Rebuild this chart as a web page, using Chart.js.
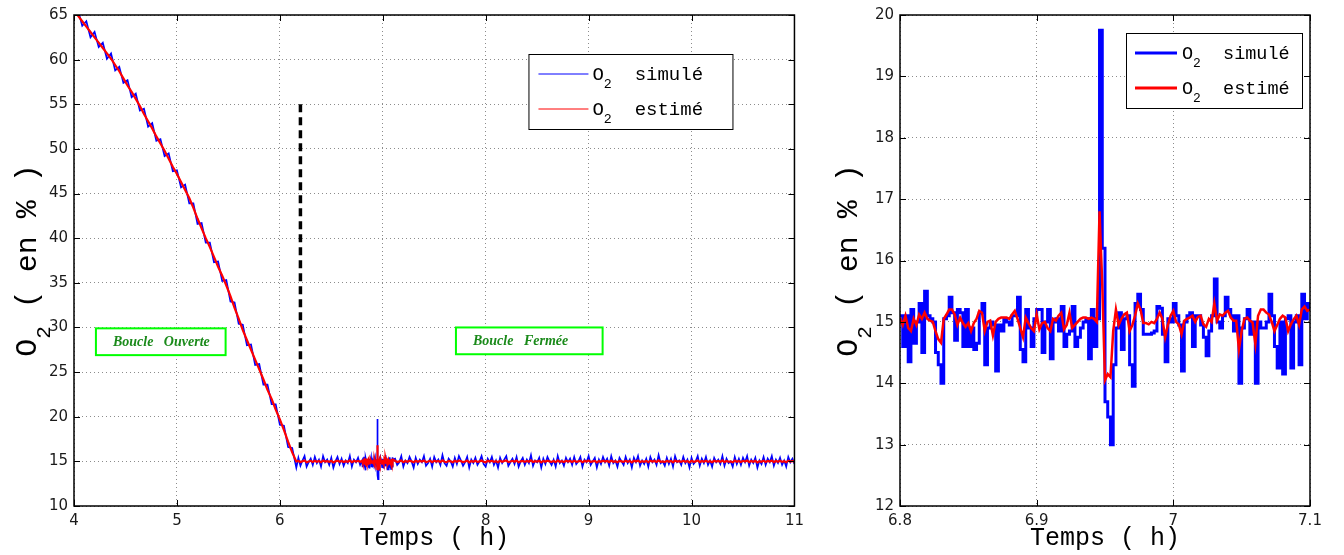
<!DOCTYPE html>
<html>
<head>
<meta charset="utf-8">
<script src="https://cdn.jsdelivr.net/npm/chart.js@4.4.1/dist/chart.umd.min.js"></script>
<style>
    body { margin: 0; background: #fff; }
    canvas { position: absolute; top: 0; }
    #full-run { left: 0; }
    #zoom-run { left: 820px; }
</style>
</head>
<body>
<canvas id="full-run" width="810" height="555"></canvas>
<canvas id="zoom-run" width="524" height="555"></canvas>
<script>
// Boucle ouverte : O2 (%) toutes les 0.04 h de 4 h à 6.16 h
const RUN_START = 4.0;
const RUN_STEP = 0.04;

const openSim = [
    65.0, 65.5, 63.8, 64.3, 62.5, 63.1, 61.4, 61.9, 60.1, 60.7,
    58.8, 59.2, 57.4, 57.7, 55.8, 56.2, 54.3, 54.5, 52.5, 52.9,
    50.9, 51.1, 49.2, 49.5, 47.5, 47.6, 45.7, 46.0, 43.9, 43.9,
    41.6, 41.7, 39.5, 39.5, 37.3, 37.4, 35.2, 35.3, 32.9, 32.8,
    30.4, 30.3, 28.0, 28.1, 25.8, 25.9, 23.6, 23.6, 21.4, 21.4,
    19.1, 19.0, 16.6, 16.5, 14.3
];
const openEst = [
    65.5, 64.9, 64.3, 63.7, 63.1, 62.5, 61.9, 61.3, 60.7, 60.1,
    59.4, 58.7, 57.9, 57.1, 56.4, 55.6, 54.8, 53.9, 53.1, 52.3,
    51.4, 50.6, 49.8, 48.9, 48.0, 47.2, 46.3, 45.4, 44.5, 43.4,
    42.2, 41.1, 40.0, 39.0, 37.9, 36.8, 35.8, 34.7, 33.5, 32.2,
    31.0, 29.7, 28.6, 27.5, 26.4, 25.3, 24.2, 23.0, 22.0, 20.8,
    19.7, 18.5, 17.2, 16.0, 15.0
];

// Boucle fermée : toutes les 0.02 h de 6.18 h à 6.78 h puis de 7.12 h à 11 h
const FINE_STEP = 0.02;
const SETTLE_START = 6.18;
const TAIL_START = 7.12;

const settleSim = [
    15.4, 14.5, 15.1, 15.6, 14.4, 14.9, 15.3, 14.6, 15.5, 14.8,
    15.2, 14.4, 15.6, 14.9, 15.2, 14.6, 15.4, 14.3, 15.0, 15.5,
    14.7, 15.3, 14.5, 15.1, 14.8, 15.6, 14.4, 15.2, 14.9, 15.4,
    14.6
];
const settleEst = [
    15.05, 14.92, 15.02, 15.1, 14.9, 14.98, 15.06, 14.94, 15.08, 14.96,
    15.04, 14.9, 15.1, 14.98, 15.02, 14.94, 15.06, 14.88, 15.0, 15.08,
    14.95, 15.05, 14.92, 15.02, 14.96, 15.1, 14.9, 15.04, 14.98, 15.06,
    14.95
];
const tailSim = [
    15.3, 14.6, 14.9, 15.6, 14.4, 15.1, 14.8, 15.5, 15.0, 14.3,
    15.4, 14.7, 15.2, 14.9, 15.6, 14.5, 14.8, 15.3, 14.4, 15.5,
    14.9, 15.2, 14.6, 15.7, 14.8, 14.5, 15.3, 15.0, 14.4, 15.4,
    14.7, 15.6, 15.1, 14.5, 14.9, 15.5, 14.3, 15.2, 14.8, 15.4,
    14.6, 15.0, 15.6, 14.7, 14.4, 15.3, 14.9, 15.5, 14.6, 15.1,
    14.3, 15.4, 14.8, 15.2, 15.6, 14.5, 14.9, 15.3, 14.7, 15.5,
    14.4, 15.0, 15.4, 14.6, 15.2, 14.8, 15.7, 14.5, 15.1, 14.9,
    15.4, 14.3, 15.3, 14.7, 15.5, 15.0, 14.6, 15.2, 14.4, 15.6,
    14.8, 15.1, 14.5, 15.4, 14.9, 15.3, 14.6, 15.5, 14.7, 15.0,
    15.5, 14.4, 15.2, 14.9, 15.6, 14.6, 15.0, 15.4, 14.3, 15.2,
    14.7, 15.5, 14.9, 15.3, 14.5, 15.6, 14.8, 15.1, 14.4, 15.4,
    15.0, 14.6, 15.5, 14.8, 15.2, 14.3, 15.4, 14.9, 15.6, 14.5,
    15.1, 14.7, 15.3, 14.4, 15.5, 14.9, 15.2, 14.6, 15.7, 14.8,
    15.0, 14.5, 15.4, 14.7, 15.3, 14.4, 15.6, 14.9, 15.1, 14.6,
    15.5, 14.8, 15.2, 14.3, 15.4, 14.7, 15.0, 15.6, 14.5, 15.3,
    14.8, 15.5, 14.6, 15.1, 14.4, 15.4, 14.9, 15.2, 14.7, 15.6,
    14.5, 15.3, 14.8, 15.0, 14.4, 15.5, 14.7, 15.3, 14.6, 15.4,
    14.9, 15.6, 14.5, 15.2, 14.8, 15.4, 14.3, 15.1, 14.7, 15.5,
    14.6, 15.3, 14.9, 15.6, 14.5, 15.2, 14.8, 15.4, 14.6, 15.1,
    14.4, 15.5, 14.9, 15.3, 14.7
];
const tailEst = [
    15.05, 14.92, 15.0, 15.1, 14.9, 15.04, 14.96, 15.08, 15.0, 14.9,
    15.06, 14.95, 15.04, 14.98, 15.1, 14.92, 14.98, 15.06, 14.9, 15.08,
    14.98, 15.04, 14.94, 15.12, 14.96, 14.92, 15.06, 15.0, 14.9, 15.06,
    14.95, 15.1, 15.02, 14.92, 14.98, 15.08, 14.88, 15.04, 14.96, 15.06,
    14.94, 15.0, 15.1, 14.95, 14.9, 15.06, 14.98, 15.08, 14.94, 15.02,
    14.9, 15.06, 14.96, 15.04, 15.1, 14.92, 14.98, 15.06, 14.95, 15.08,
    14.9, 15.0, 15.06, 14.94, 15.04, 14.96, 15.12, 14.92, 15.02, 14.98,
    15.06, 14.88, 15.05, 14.95, 15.08, 15.0, 14.94, 15.04, 14.9, 15.1,
    14.96, 15.02, 14.92, 15.06, 14.98, 15.05, 14.94, 15.08, 14.95, 15.0,
    15.08, 14.9, 15.04, 14.98, 15.1, 14.94, 15.0, 15.06, 14.88, 15.04,
    14.95, 15.08, 14.98, 15.05, 14.92, 15.1, 14.96, 15.02, 14.9, 15.06,
    15.0, 14.94, 15.08, 14.96, 15.04, 14.88, 15.06, 14.98, 15.1, 14.92,
    15.02, 14.95, 15.05, 14.9, 15.08, 14.98, 15.04, 14.94, 15.12, 14.96,
    15.0, 14.92, 15.06, 14.95, 15.05, 14.9, 15.1, 14.98, 15.02, 14.94,
    15.08, 14.96, 15.04, 14.88, 15.06, 14.95, 15.0, 15.1, 14.92, 15.05,
    14.96, 15.08, 14.94, 15.02, 14.9, 15.06, 14.98, 15.04, 14.95, 15.1,
    14.92, 15.05, 14.96, 15.0, 14.9, 15.08, 14.95, 15.05, 14.94, 15.06,
    14.98, 15.1, 14.92, 15.04, 14.96, 15.06, 14.88, 15.02, 14.95, 15.08,
    14.94, 15.05, 14.98, 15.1, 14.92, 15.04, 14.96, 15.06, 14.94, 15.02,
    14.9, 15.08, 14.98, 15.05, 14.95
];

// Zoom autour de la perturbation : 6.8 h à 7.1 h, pas de 0.002 h
const ZOOM_START = 6.8;
const ZOOM_STEP = 0.002;

const zoomSim = [
    15.1, 14.6, 15.1, 14.35, 15.2, 14.65, 15.0, 15.3, 14.5, 15.5,
    15.1, 15.05, 15.0, 14.5, 14.3, 14.0, 15.05, 15.1, 15.4, 15.15,
    14.7, 15.2, 15.15, 14.6, 15.2, 14.6, 14.9, 14.55, 14.65, 15.15,
    15.3, 14.3, 14.9, 15.0, 14.95, 14.2, 14.95, 14.85, 15.05, 15.0,
    14.95, 15.1, 15.1, 15.4, 14.55, 14.35, 15.2, 14.9, 14.6, 15.05,
    15.2, 15.2, 14.5, 15.0, 15.2, 14.4, 15.0, 15.05, 14.85, 15.25,
    14.6, 14.8, 14.85, 15.25, 14.6, 14.75, 14.9, 15.0, 15.05, 14.4,
    15.2, 14.6, 15.05, 19.75, 16.2, 13.7, 13.45, 13.0, 14.3, 14.9,
    15.15, 14.55, 15.05, 15.1, 14.3, 13.95, 15.3, 15.45, 15.2, 14.8,
    14.8, 14.8, 14.82, 14.85, 15.25, 15.22, 14.8, 14.35, 15.05, 15.0,
    15.3, 15.1, 14.95, 14.2, 15.0, 15.1, 15.15, 14.6, 15.1, 15.1,
    14.95, 14.75, 14.45, 14.85, 15.1, 15.7, 15.0, 14.9, 15.1, 15.4,
    15.2, 15.1, 14.85, 15.1, 14.0, 14.9, 15.05, 15.2, 14.8, 15.0,
    14.0, 15.0, 14.9, 14.9, 15.0, 15.45, 15.1, 14.6, 14.25, 15.0,
    14.15, 15.05, 15.1, 14.25, 15.0, 15.1, 14.3, 15.45, 15.05, 15.3,
    15.2
];
const zoomEst = [
    15.07, 14.95, 15.1, 14.9, 14.85, 15.05, 14.95, 15.12, 15.05, 15.15,
    15.05, 15.02, 15.0, 14.85, 14.72, 14.66, 15.05, 15.12, 15.2, 15.2,
    15.12, 14.95, 15.07, 14.98, 14.92, 14.98, 14.85, 14.98, 15.05, 15.18,
    15.15, 14.85, 15.0, 15.02, 14.78, 15.0, 15.05, 15.07, 15.07, 15.07,
    15.05, 15.12, 15.18, 15.05, 14.9, 14.75, 15.07, 14.98, 14.9, 14.85,
    15.12, 14.88, 14.98, 15.0, 14.9, 14.85, 15.05, 15.02, 15.1, 15.15,
    14.88, 14.95, 15.15, 14.9, 14.95, 15.0, 15.05, 15.07, 15.07, 15.05,
    15.07, 15.05, 15.0, 16.8, 15.6, 14.05, 14.15, 14.1, 14.85, 15.2,
    14.95, 15.05, 15.12, 15.15, 14.85, 14.95, 15.1, 15.3, 15.2, 14.98,
    14.98, 14.96, 15.0, 14.98, 15.05, 15.15, 15.05, 14.75, 14.95, 15.1,
    15.18, 15.0, 14.96, 14.8, 15.02, 15.05, 15.07, 15.1, 15.0, 15.08,
    15.1, 14.96, 14.92, 15.05, 15.0, 15.3, 15.02, 15.12, 15.1, 15.15,
    15.18, 15.07, 15.02, 15.02, 14.55, 14.85, 15.05, 15.07, 15.02, 14.99,
    14.64, 15.1, 15.2, 15.2, 15.15, 15.12, 15.0, 14.85, 14.95, 15.05,
    15.1, 15.07, 14.85, 14.96, 15.04, 15.1, 14.95, 15.2, 15.25, 15.18,
    15.2
];

// Passage boucle ouverte -> boucle fermée
const switchT = [6.2, 6.2];
const switchO2 = [55, 16.5];

const fullXTicks = [4, 5, 6, 7, 8, 9, 10, 11];
const fullYTicks = [10, 15, 20, 25, 30, 35, 40, 45, 50, 55, 60, 65];
const zoomXTicks = [6.8, 6.9, 7.0, 7.1];
const zoomYTicks = [12, 13, 14, 15, 16, 17, 18, 19, 20];

const BLUE = '#0000ff';
const RED = '#ff0000';
const MONO = '"Liberation Mono", "DejaVu Sans Mono", monospace';

function buildSeries(start, step, values) {
    return values.map((v, i) => ({ x: +(start + i * step).toFixed(4), y: v }));
}

// Texte avec indice (O + 2 abaissé)
function drawParts(ctx, parts, x, y, size, centered) {
    const subSize = size * 0.7;
    const widths = parts.map(p => {
        ctx.font = `${p.sub ? subSize : size}px ${MONO}`;
        return ctx.measureText(p.t).width;
    });
    const total = widths.reduce((a, b) => a + b, 0);
    let cx = centered ? x - total / 2 : x;
    parts.forEach((p, i) => {
        ctx.font = `${p.sub ? subSize : size}px ${MONO}`;
        ctx.fillText(p.t, cx, p.sub ? y + size * 0.45 : y);
        cx += widths[i];
    });
}

const figurePlugin = {
    id: 'figure',
    afterDraw(chart, args, opts) {
        const { ctx, chartArea: area } = chart;
        const xs = chart.scales.x;
        const ys = chart.scales.y;
        ctx.save();

        // Cadre et graduations intérieures
        ctx.strokeStyle = '#000';
        ctx.lineWidth = 1;
        ctx.beginPath();
        xs.ticks.forEach(t => {
            const px = Math.round(xs.getPixelForValue(t.value)) + 0.5;
            ctx.moveTo(px, area.bottom); ctx.lineTo(px, area.bottom - 6);
            ctx.moveTo(px, area.top); ctx.lineTo(px, area.top + 6);
        });
        ys.ticks.forEach(t => {
            const py = Math.round(ys.getPixelForValue(t.value)) + 0.5;
            ctx.moveTo(area.left, py); ctx.lineTo(area.left + 6, py);
            ctx.moveTo(area.right, py); ctx.lineTo(area.right - 6, py);
        });
        ctx.stroke();
        ctx.lineWidth = 1.5;
        ctx.strokeRect(area.left, area.top, area.width, area.height);

        // Encadrés "Boucle ..."
        (opts.notes || []).forEach(n => {
            const x0 = xs.getPixelForValue(n.from[0]);
            const x1 = xs.getPixelForValue(n.to[0]);
            const y0 = ys.getPixelForValue(n.from[1]);
            const y1 = ys.getPixelForValue(n.to[1]);
            ctx.fillStyle = '#fff';
            ctx.fillRect(x0, y0, x1 - x0, y1 - y0);
            ctx.strokeStyle = '#00ff00';
            ctx.lineWidth = 2;
            ctx.strokeRect(x0, y0, x1 - x0, y1 - y0);
            ctx.fillStyle = '#1a8a1a';
            ctx.font = 'bold italic 14px "Liberation Serif", serif';
            ctx.textBaseline = 'alphabetic';
            ctx.fillText(n.text, x0 + 17, y1 - 9);
        });

        // Légende
        const lg = opts.legend;
        const bx = area.right - lg.right - lg.width;
        const by = area.top + lg.top;
        ctx.fillStyle = '#fff';
        ctx.fillRect(bx, by, lg.width, lg.height);
        ctx.strokeStyle = '#000';
        ctx.lineWidth = 1;
        ctx.strokeRect(bx + 0.5, by + 0.5, lg.width, lg.height);
        lg.items.forEach((item, i) => {
            const ly = by + lg.rowY[i];
            ctx.strokeStyle = item.color;
            ctx.lineWidth = lg.lineWidth;
            ctx.beginPath();
            ctx.moveTo(bx + lg.lineX[0], ly);
            ctx.lineTo(bx + lg.lineX[1], ly);
            ctx.stroke();
            ctx.fillStyle = '#000';
            drawParts(ctx, [{ t: 'O' }, { t: '2', sub: true }, { t: '  ' + item.label }],
                bx + lg.textX, ly + lg.fontSize * 0.3, lg.fontSize, false);
        });

        // Titres des axes
        ctx.fillStyle = '#000';
        drawParts(ctx, [{ t: 'Temps ( h)' }], (area.left + area.right) / 2, opts.xTitleY, 25, true);
        ctx.translate(opts.yTitleX, (area.top + area.bottom) / 2);
        ctx.rotate(-Math.PI / 2);
        drawParts(ctx, [{ t: 'O' }, { t: '2', sub: true }, { t: ' ( en % )' }], 0, 0, 30, true);
        ctx.restore();
    }
};

function axisOptions(min, max, ticks, size, fmt) {
    return {
        type: 'linear',
        min: min,
        max: max,
        afterBuildTicks: s => { s.ticks = ticks.map(v => ({ value: v })); },
        afterFit: s => { if (s.isHorizontal()) s.height = size; else s.width = size; },
        grid: { color: '#8c8c8c', lineWidth: 1, drawTicks: false },
        border: { display: false, dash: [1, 3] },
        ticks: {
            color: '#1a1a1a',
            padding: 6,
            font: { family: 'DejaVu Sans', size: 15 },
            callback: fmt || (v => String(+v.toFixed(2)))
        }
    };
}

function makeChart(id, datasets, scales, padding, figure) {
    return new Chart(document.getElementById(id), {
        type: 'line',
        data: { datasets: datasets },
        options: {
            responsive: false,
            animation: false,
            devicePixelRatio: 1,
            events: [],
            layout: { padding: padding },
            elements: { point: { radius: 0 }, line: { tension: 0 } },
            scales: scales,
            plugins: {
                legend: { display: false },
                tooltip: { enabled: false },
                figure: figure
            }
        },
        plugins: [figurePlugin]
    });
}

const fullSim = [
    ...buildSeries(RUN_START, RUN_STEP, openSim),
    ...buildSeries(SETTLE_START, FINE_STEP, settleSim),
    ...buildSeries(ZOOM_START, ZOOM_STEP, zoomSim),
    ...buildSeries(TAIL_START, FINE_STEP, tailSim)
];
const fullEst = [
    ...buildSeries(RUN_START, RUN_STEP, openEst),
    ...buildSeries(SETTLE_START, FINE_STEP, settleEst),
    ...buildSeries(ZOOM_START, ZOOM_STEP, zoomEst),
    ...buildSeries(TAIL_START, FINE_STEP, tailEst)
];

makeChart('full-run', [
    { data: fullEst, borderColor: RED, borderWidth: 2.2 },
    { data: fullSim, borderColor: BLUE, borderWidth: 1.7 },
    {
        data: switchT.map((t, i) => ({ x: t, y: switchO2[i] })),
        borderColor: '#000', borderWidth: 3.5, borderDash: [8, 5]
    }
], {
    x: axisOptions(4, 11, fullXTicks, 49),
    y: axisOptions(10, 65, fullYTicks, 74)
}, { top: 12, right: 14, bottom: 0, left: 0 }, {
    xTitleY: 545,
    yTitleX: 36,
    notes: [
        { text: 'Boucle   Ouverte', from: [4.213, 29.9], to: [5.473, 26.9] },
        { text: 'Boucle   Fermée', from: [7.711, 30.0], to: [9.136, 27.0] }
    ],
    legend: {
        right: 62, top: 39, width: 204, height: 75,
        lineX: [10, 60], rowY: [20, 55], textX: 64,
        lineWidth: 1, fontSize: 19,
        items: [{ label: 'simulé', color: BLUE }, { label: 'estimé', color: RED }]
    }
});

makeChart('zoom-run', [
    { data: buildSeries(ZOOM_START, ZOOM_STEP, zoomEst), borderColor: RED, borderWidth: 2.5 },
    { data: buildSeries(ZOOM_START, ZOOM_STEP, zoomSim), borderColor: BLUE, borderWidth: 3, stepped: true }
], {
    x: axisOptions(6.8, 7.1, zoomXTicks, 49),
    y: axisOptions(12, 20, zoomYTicks, 80)
}, { top: 14, right: 34, bottom: 0, left: 0 }, {
    xTitleY: 545,
    yTitleX: 37,
    legend: {
        right: 8, top: 18, width: 176, height: 75,
        lineX: [9, 51], rowY: [20, 55], textX: 56,
        lineWidth: 3, fontSize: 18.5,
        items: [{ label: 'simulé', color: BLUE }, { label: 'estimé', color: RED }]
    }
});
</script>
</body>
</html>
